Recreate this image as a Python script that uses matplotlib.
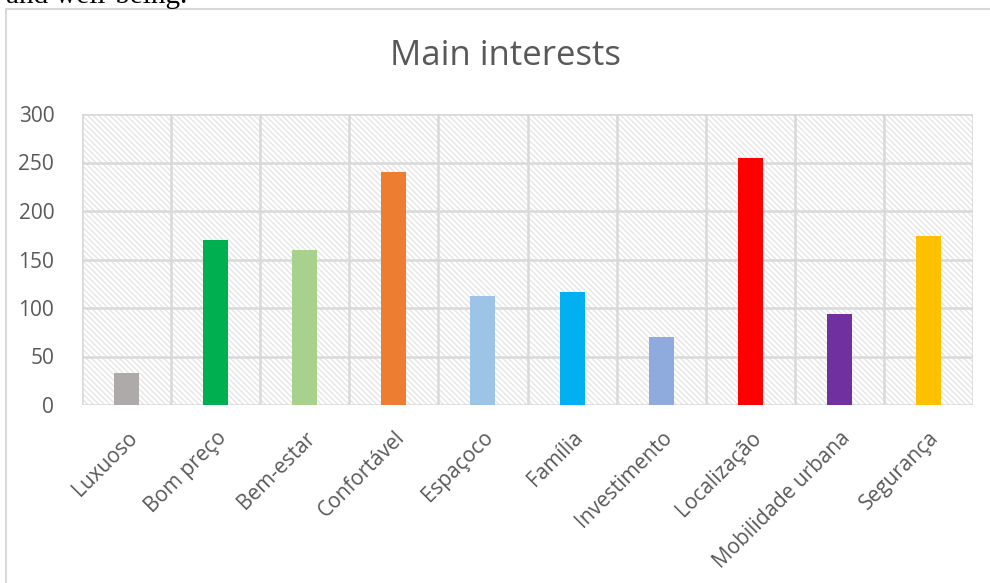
import matplotlib
matplotlib.use('Agg')
import matplotlib.pyplot as plt
from matplotlib.patches import Rectangle
from matplotlib.lines import Line2D

categories = ['Luxuoso', 'Bom preço', 'Bem-estar', 'Confortável', 'Espaçoco',
              'Família', 'Investimento', 'Localização', 'Mobilidade urbana', 'Segurança']
counts = [33, 170, 160, 240, 112, 117, 70, 255, 94, 174]
bar_colors = ['#aeaaaa', '#00b050', '#a9d18e', '#ed7d31', '#9dc3e6',
              '#00b0f0', '#8faadc', '#ff0000', '#7030a0', '#ffc000']
y_ticks = [0, 50, 100, 150, 200, 250, 300]

TEXT_GRAY = '#595959'
GRID_GRAY = '#d9d9d9'

plt.rcParams['font.family'] = ['Open Sans', 'DejaVu Sans']
plt.rcParams['hatch.color'] = '#e3e3e3'
plt.rcParams['hatch.linewidth'] = 0.9

fig = plt.figure(figsize=(9.9, 5.83), dpi=100)
W, H = 990, 583

# chart frame (left and top edge visible)
fig.add_artist(Line2D([6 / W, 6 / W], [0, 1 - 9 / H], color=GRID_GRAY, lw=1.5))
fig.add_artist(Line2D([6 / W, 1], [1 - 9 / H, 1 - 9 / H], color=GRID_GRAY, lw=1.5))

# tail of the paragraph above the chart
fig.text(6 / W, 1 - 3 / H, 'and well-being.', family='Liberation Serif',
         fontsize=21, color='black', va='baseline', ha='left')

fig.text(505 / W, 1 - 56 / H, 'Main interests', fontsize=25, color=TEXT_GRAY,
         ha='center', va='center')

ax = fig.add_axes([82 / W, 1 - 405 / H, (973 - 82) / W, (405 - 114) / H])

# hatched plot area background
ax.add_patch(Rectangle((0, 0), 1, 1, transform=ax.transAxes, facecolor='white',
                       edgecolor='#e3e3e3', hatch='\\' * 6, lw=0, zorder=0))

x = range(len(categories))
ax.bar(x, counts, width=0.28, color=bar_colors, zorder=3)

ax.set_xlim(-0.5, len(categories) - 0.5)
ax.set_ylim(0, 300)
ax.set_yticks(y_ticks)
ax.set_xticks(list(x))
ax.set_xticklabels(categories, rotation=45, ha='right', rotation_mode='anchor')

for b in range(len(categories) + 1):
    ax.axvline(b - 0.5, color=GRID_GRAY, lw=1.8, zorder=1)
for t in y_ticks:
    ax.axhline(t, color=GRID_GRAY, lw=1.8, zorder=1)

for s in ax.spines.values():
    s.set_visible(False)
ax.tick_params(axis='both', length=0, labelcolor=TEXT_GRAY, labelsize=15)
ax.tick_params(axis='y', pad=20)
ax.tick_params(axis='x', pad=16)

fig.savefig('out.png', dpi=100)
